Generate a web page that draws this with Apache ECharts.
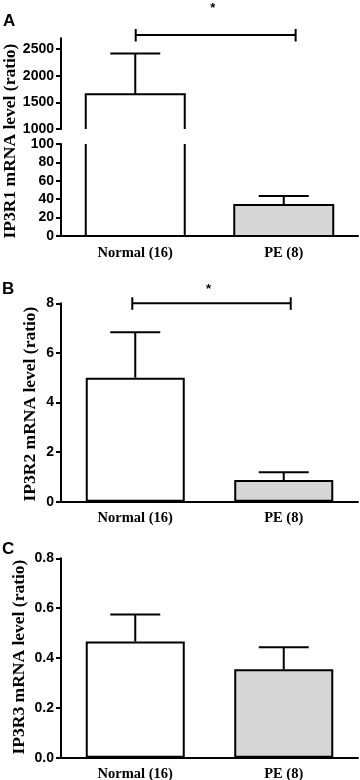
<!DOCTYPE html>
<html>
<head>
<meta charset="utf-8">
<script src="https://cdn.jsdelivr.net/npm/echarts@6/dist/echarts.min.js"></script>
<style>
  html, body { margin: 0; padding: 0; background: #fff; }
  #chart { width: 360px; height: 780px; }
</style>
</head>
<body>
<div id="chart"></div>
<script>
/* IP3R1/2/3 mRNA levels, Normal vs PE, bars = mean, whisker = +SEM */
var categories = ['Normal (16)', 'PE (8)'];

var ip3r1Mean = [1650, 33.7];
var ip3r1Sem = [765, 9.8];
var ip3r2Mean = [5.0, 0.87];
var ip3r2Sem = [1.83, 0.32];
var ip3r3Mean = [0.466, 0.355];
var ip3r3Sem = [0.109, 0.088];

var upperTicksA = [1000, 1500, 2000, 2500];
var yTitles = ['IP3R1 mRNA level (ratio)', 'IP3R2 mRNA level (ratio)', 'IP3R3 mRNA level (ratio)'];

// significance brackets: [from category, to category, y value, label]
var sigA = [0.003, 1.08, 2762, '*'];
var sigB = [-0.02, 1.047, 8, '*'];

(function () {
  var ink = '#000';
  var fills = ['#ffffff', '#d7d7d7'];
  var serif = 'Liberation Serif';
  var sans = 'Liberation Sans';
  var gridLeft = 61, gridWidth = 297, barW = 99;

  var chart = echarts.init(document.getElementById('chart'), null, { renderer: 'canvas' });

  function pairs(means, sems) {
    return means.map(function (m, i) { return sems ? [i, m, sems[i]] : [i, m]; });
  }

  // bar drawn as a clipped rect so the axis break leaves the bar open
  function renderBar(params, api) {
    var i = api.value(0);
    var top = api.coord([i, api.value(1)]);
    var bot = api.coord([i, 0]);
    return {
      type: 'rect',
      shape: { x: top[0] - barW / 2, y: top[1], width: barW, height: bot[1] - top[1] },
      style: { fill: fills[params.dataIndex], stroke: ink, lineWidth: 2 }
    };
  }

  function renderErr(params, api) {
    var x = api.value(0), m = api.value(1), s = api.value(2);
    var base = api.coord([x, m]);
    var top = api.coord([x, m + s]);
    var half = 25;
    var st = { stroke: ink, lineWidth: 2 };
    return {
      type: 'group',
      children: [
        { type: 'line', shape: { x1: base[0], y1: base[1], x2: top[0], y2: top[1] }, style: st },
        { type: 'line', shape: { x1: top[0] - half, y1: top[1], x2: top[0] + half, y2: top[1] }, style: st }
      ]
    };
  }

  function makeBracket(starLift) {
    return function (params, api) {
      var band = api.size([1, 0])[0];
      var c0 = api.coord([0, api.value(2)]);
      var x1 = c0[0] + api.value(0) * band;
      var x2 = c0[0] + api.value(1) * band;
      var y = c0[1];
      var st = { stroke: ink, lineWidth: 2 };
      return {
        type: 'group',
        children: [
          { type: 'line', shape: { x1: x1, y1: y, x2: x2, y2: y }, style: st },
          { type: 'line', shape: { x1: x1, y1: y - 6, x2: x1, y2: y + 6.5 }, style: st },
          { type: 'line', shape: { x1: x2, y1: y - 6, x2: x2, y2: y + 6.5 }, style: st },
          { type: 'text', x: (x1 + x2) / 2 - 3, y: y - starLift,
            style: { text: api.value(3), fill: ink, font: 'bold 13px ' + sans, align: 'center', verticalAlign: 'middle' } }
        ]
      };
    };
  }

  function xAx(gi, show) {
    return {
      type: 'category', gridIndex: gi, data: categories, show: show,
      axisLine: { lineStyle: { color: ink, width: 2 } },
      axisTick: { alignWithLabel: true, length: 5, lineStyle: { color: ink, width: 2 } },
      axisLabel: { fontFamily: serif, fontWeight: 'bold', fontSize: 14.5, color: ink, margin: 9.5 }
    };
  }

  var tickLabel = { fontFamily: sans, fontWeight: 'bold', fontSize: 14, color: ink, margin: 7 };

  function yAx(gi, min, max, interval, extra) {
    var ax = {
      type: 'value', gridIndex: gi, min: min, max: max, interval: interval,
      axisLine: { show: true, lineStyle: { color: ink, width: 2 } },
      axisTick: { show: true, length: 5, lineStyle: { color: ink, width: 2 } },
      axisLabel: tickLabel,
      splitLine: { show: false }
    };
    for (var k in extra) ax[k] = extra[k];
    return ax;
  }

  function bars(xi, means) {
    return {
      type: 'bar', xAxisIndex: xi, yAxisIndex: xi, data: means, barWidth: barW,
      itemStyle: { color: function (p) { return fills[p.dataIndex]; }, borderColor: ink, borderWidth: 2 }
    };
  }

  function brokenBars(xi, means) {
    return { type: 'custom', xAxisIndex: xi, yAxisIndex: xi, clip: true, data: pairs(means), renderItem: renderBar, z: 2 };
  }

  function errs(xi, means, sems) {
    return { type: 'custom', xAxisIndex: xi, yAxisIndex: xi, clip: true, data: pairs(means, sems), renderItem: renderErr, z: 3 };
  }

  function yTitle(text, cx, cy) {
    return { type: 'text', x: cx, y: cy, rotation: Math.PI / 2,
      style: { text: text, font: 'bold 17.5px ' + serif, fill: ink, align: 'center', verticalAlign: 'middle' } };
  }

  chart.setOption({
    animation: false,
    grid: [
      { left: gridLeft, width: gridWidth, top: 38.3, height: 90.7, outerBoundsMode: 'none' },   // A upper
      { left: gridLeft, width: gridWidth, top: 144, height: 92, outerBoundsMode: 'none' },      // A lower
      { left: gridLeft, width: gridWidth, top: 303.3, height: 198.4, outerBoundsMode: 'none' }, // B
      { left: gridLeft, width: gridWidth, top: 558.3, height: 199.4, outerBoundsMode: 'none' }  // C
    ],
    xAxis: [xAx(0, false), xAx(1, true), xAx(2, true), xAx(3, true)],
    yAxis: [
      yAx(0, 1000, 2700, 500, {
        axisTick: { show: true, length: 5, lineStyle: { color: ink, width: 2 }, customValues: upperTicksA },
        axisLabel: { fontFamily: sans, fontWeight: 'bold', fontSize: 14, color: ink, margin: 7,
          customValues: upperTicksA, formatter: function (v) { return String(v); } }
      }),
      yAx(1, 0, 100, 20, {}),
      yAx(2, 0, 8, 2, {}),
      yAx(3, 0, 0.8, 0.2, {
        axisLabel: { fontFamily: sans, fontWeight: 'bold', fontSize: 14, color: ink, margin: 7,
          formatter: function (v) { return v.toFixed(1); } } })
    ],
    series: [
      brokenBars(0, ip3r1Mean), errs(0, ip3r1Mean, ip3r1Sem),
      brokenBars(1, ip3r1Mean), errs(1, ip3r1Mean, ip3r1Sem),
      bars(2, ip3r2Mean), errs(2, ip3r2Mean, ip3r2Sem),
      bars(3, ip3r3Mean), errs(3, ip3r3Mean, ip3r3Sem),
      { type: 'custom', xAxisIndex: 0, yAxisIndex: 0, clip: false, data: [sigA], renderItem: makeBracket(27), z: 4 },
      { type: 'custom', xAxisIndex: 2, yAxisIndex: 2, clip: false, data: [sigB], renderItem: makeBracket(13.5), z: 4 }
    ],
    graphic: [
      { type: 'text', left: 3, top: 13, style: { text: 'A', font: 'bold 17px ' + sans, fill: ink } },
      { type: 'text', left: 2, top: 281, style: { text: 'B', font: 'bold 17px ' + sans, fill: ink } },
      { type: 'text', left: 2, top: 541, style: { text: 'C', font: 'bold 17px ' + sans, fill: ink } },
      yTitle(yTitles[0], 10, 141),
      yTitle(yTitles[1], 30.5, 404),
      yTitle(yTitles[2], 19.5, 657)
    ]
  });
})();
</script>
</body>
</html>
